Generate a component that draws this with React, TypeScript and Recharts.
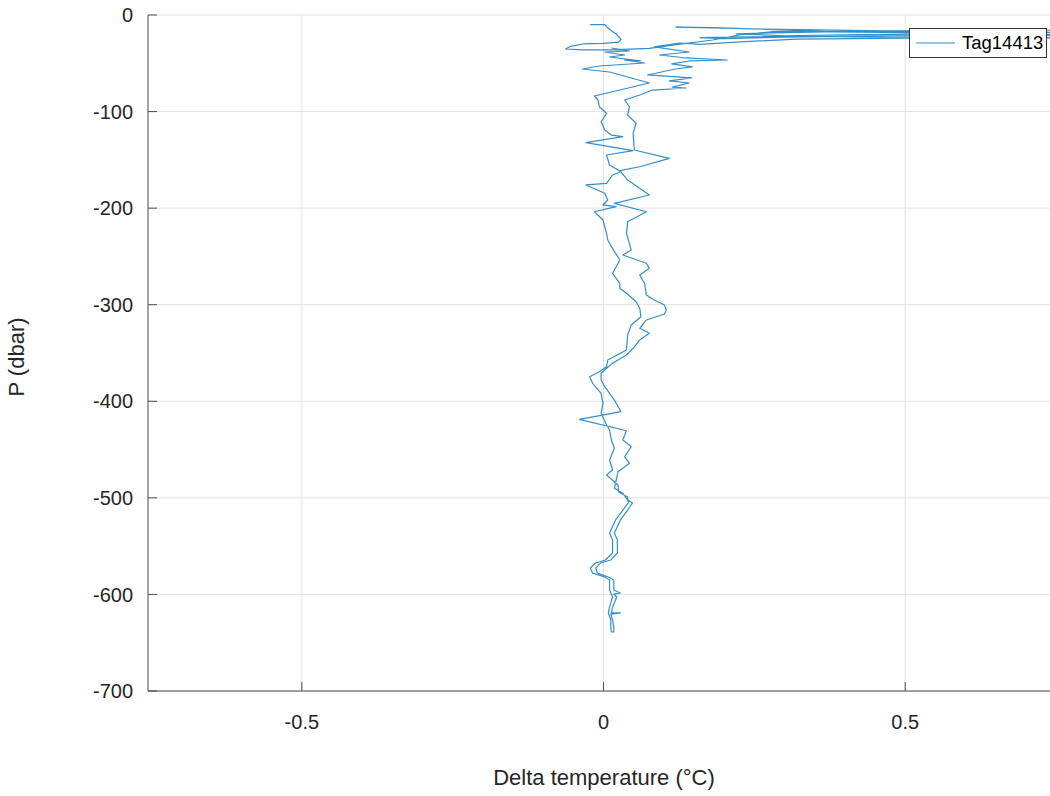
import React from 'react';
import { LineChart, Line, XAxis, YAxis, CartesianGrid, Legend, Label } from 'recharts';

const FONT = '"Liberation Sans", Arial, Helvetica, sans-serif';
const TEXT = '#262626';
const AXIS = '#4d4d4d';
const BLUE = '#0072BD';

const seriesName = 'Tag14413';
const xTicks = [-0.5, 0, 0.5];
const yTicks = [-700, -600, -500, -400, -300, -200, -100, 0];

// near-surface part (start, warm excursions)
const surfaceTemp = [-0.022, 0.002, 0.005, 0.013, 0.021, 0.029, 0.025, -0.001, -0.034, -0.056, -0.063, -0.035, 0.010, 0.076, 0.114, 0.181, 0.225, 0.280, 0.502, 0.80, 0.55, 0.40, 0.30, 0.22, 0.28, 0.45, 0.80, 0.52, 0.35, 0.22, 0.12, 0.18, 0.26, 0.38, 0.55, 0.80, 0.48, 0.30, 0.20, 0.16, 0.24, 0.33, 0.45, 0.80, 0.50, 0.32, 0.22, 0.16, 0.126];
const surfaceP = [-10.0, -10.0, -12.1, -16.3, -19.7, -25.2, -28.0, -29.3, -30.0, -32.8, -35.2, -36.2, -36.2, -34.5, -31.1, -25.9, -20.7, -17.3, -17.3, -18.0, -19.5, -20.5, -21.5, -19.5, -18.5, -16.5, -15.5, -17.0, -15.5, -14.0, -12.5, -13.0, -14.5, -17.5, -18.5, -21.0, -21.5, -23.0, -24.5, -23.5, -22.5, -22.0, -23.0, -23.5, -24.0, -25.0, -28.0, -30.5, -29.0];

// descent
const descentTemp = [0.084, 0.142, 0.093, 0.137, 0.205, 0.142, 0.113, 0.147, 0.119, 0.073, 0.146, 0.109, 0.142, 0.114, 0.137, 0.081, 0.060, 0.040, 0.035, 0.043, 0.040, 0.054, 0.049, 0.051, 0.109, 0.060, 0.027, 0.040, 0.076, 0.018, 0.071, 0.040, 0.038, 0.046, 0.032, 0.071, 0.076, 0.060, 0.068, 0.071, 0.084, 0.101, 0.104, 0.101, 0.071, 0.060, 0.076, 0.060, 0.049, 0.038, 0.015, 0.005, -0.004, -0.004, 0.002, 0.010, 0.018, 0.029, -0.040, 0.038, 0.032, 0.046, 0.035, 0.043, 0.024, 0.018, 0.032, 0.040, 0.048, 0.040, 0.028, 0.018, 0.023, 0.023, 0.012, -0.005, -0.013, -0.010, 0.008, 0.017, 0.017, 0.028, 0.017, 0.022, 0.015, 0.013, 0.028, 0.012, 0.015, 0.017, 0.017];
const descentP = [-33.1, -38.3, -41.4, -44.5, -46.6, -47.6, -50.7, -53.8, -55.9, -62.1, -65.2, -68.3, -70.4, -74.6, -75.6, -77.7, -82.8, -87.0, -88.0, -95.0, -103.6, -112.1, -122.5, -139.8, -148.4, -157.1, -161.2, -170.9, -186.4, -195.0, -203.7, -214.0, -226.1, -243.3, -248.5, -257.1, -262.3, -269.2, -277.8, -289.9, -295.1, -300.3, -305.5, -309.6, -315.8, -324.4, -329.6, -336.5, -345.1, -352.1, -360.7, -365.8, -371.0, -378.0, -384.9, -391.7, -398.7, -410.8, -418.7, -430.5, -440.1, -447.0, -457.4, -464.2, -472.9, -490.1, -495.3, -502.2, -505.3, -512.6, -522.9, -536.4, -543.6, -557.1, -564.3, -567.5, -572.7, -577.9, -582.0, -585.1, -595.4, -598.5, -599.6, -602.7, -613.1, -619.2, -619.2, -620.3, -626.5, -633.8, -638.9];

// ascent
const ascentTemp = [0.013, 0.012, 0.012, 0.008, 0.010, 0.015, 0.010, 0.010, 0.002, -0.018, -0.022, -0.013, 0.003, 0.015, 0.015, 0.010, 0.020, 0.032, 0.041, 0.040, 0.025, 0.024, 0.005, 0.015, 0.010, 0.018, 0.013, 0.010, 0.005, -0.004, -0.001, -0.004, -0.018, -0.023, -0.007, 0.005, 0.007, 0.038, 0.040, 0.046, 0.062, 0.060, 0.054, 0.038, 0.027, 0.027, 0.015, 0.027, 0.013, 0.007, 0.005, -0.001, -0.015, 0.021, -0.001, 0.007, 0.002, -0.029, 0.005, 0.015, 0.029, 0.010, 0.005, 0.049, -0.029, 0.032, 0.013, 0.002, -0.004, 0.005, -0.007, -0.009, -0.015, 0.076, 0.010, -0.035, -0.007, 0.068, 0.035, 0.061, 0.010, 0.035, 0.002, 0.043, 0.013];
const ascentP = [-638.9, -633.8, -626.5, -619.2, -613.1, -602.7, -595.4, -585.1, -582.0, -577.9, -572.7, -567.5, -564.3, -557.1, -543.6, -536.4, -522.9, -512.6, -505.3, -499.1, -493.9, -486.7, -476.3, -471.2, -460.8, -448.7, -440.1, -429.7, -424.6, -412.5, -402.1, -391.7, -381.4, -374.5, -369.4, -364.2, -357.3, -346.9, -331.4, -321.0, -312.4, -303.7, -296.9, -288.2, -283.0, -277.8, -267.5, -253.7, -239.9, -233.0, -226.1, -212.3, -203.7, -198.5, -196.7, -191.6, -184.6, -176.0, -174.3, -165.7, -162.3, -155.3, -145.0, -140.5, -132.2, -126.0, -124.3, -119.1, -110.5, -101.8, -95.0, -88.0, -83.9, -70.4, -59.0, -55.9, -52.8, -49.7, -46.6, -47.6, -43.5, -41.4, -38.3, -37.3, -34.2];

const allTemp = [...surfaceTemp, ...descentTemp, ...ascentTemp];
const allP = [...surfaceP, ...descentP, ...ascentP];
const data = allTemp.map((t, i) => ({ t, p: allP[i] }));

const XTick = (props: any) => {
  const { x, y, payload } = props;
  return (
    <g>
      <line x1={x} x2={x} y1={y - 24} y2={y - 33} stroke={AXIS} strokeWidth={1} />
      <text x={x} y={y} dy="0.71em" textAnchor="middle" fill={TEXT} fontSize={20} fontFamily={FONT}>
        {payload.value}
      </text>
    </g>
  );
};

const YTick = (props: any) => {
  const { x, y, payload } = props;
  return (
    <g>
      <line x1={x + 15} x2={x + 24} y1={y} y2={y} stroke={AXIS} strokeWidth={1} />
      <text x={x} y={y} dy="0.36em" textAnchor="end" fill={TEXT} fontSize={20} fontFamily={FONT}>
        {payload.value}
      </text>
    </g>
  );
};

const XLabel = (props: any) => {
  const vb = props.viewBox || {};
  const cx = vb.x + vb.width / 2 + 5;
  const cy = vb.y + vb.height + 64;
  return (
    <text x={cx} y={cy} textAnchor="middle" fill={TEXT} fontSize={22} fontFamily={FONT}>
      Delta temperature (°C)
    </text>
  );
};

const YLabel = (props: any) => {
  const vb = props.viewBox || {};
  const cx = vb.x + 24;
  const cy = vb.y + vb.height / 2 + 4;
  return (
    <text x={cx} y={cy} transform={`rotate(-90 ${cx} ${cy})`} textAnchor="middle" fill={TEXT} fontSize={22} fontFamily={FONT}>
      P (dbar)
    </text>
  );
};

const renderLegend = () => (
  <div
    style={{
      boxSizing: 'border-box',
      width: 138,
      height: 30,
      border: '1px solid #333',
      background: '#fff',
      display: 'flex',
      alignItems: 'center',
      fontFamily: FONT,
      fontSize: 18.5,
      color: '#000',
      lineHeight: '28px',
    }}
  >
    <svg width={52} height={28} style={{ display: 'block' }}>
      <line x1={6} x2={45} y1={14} y2={14} stroke={BLUE} strokeWidth={1.2} strokeOpacity={0.8} />
    </svg>
    <span>{seriesName}</span>
  </div>
);

export default function App() {
  return (
    <div style={{ position: 'absolute', left: 0, top: 0, width: 1050, height: 796, background: '#fff' }}>
      <LineChart width={1050} height={796} data={data} margin={{ top: 15, right: 0, bottom: 75, left: 0 }}>
        <CartesianGrid stroke="#e2e2e2" strokeWidth={1} horizontalValues={yTicks} verticalValues={xTicks} />
        <XAxis
          dataKey="t"
          type="number"
          domain={[-0.755, 0.74]}
          ticks={xTicks}
          allowDataOverflow
          height={30}
          tickSize={0}
          tickMargin={24}
          tickLine={false}
          tick={<XTick />}
          stroke={AXIS}
          interval={0}
        >
          <Label content={<XLabel />} />
        </XAxis>
        <YAxis
          type="number"
          domain={[-700, 0]}
          ticks={yTicks}
          allowDataOverflow
          width={148}
          tickSize={0}
          tickMargin={15}
          tickLine={false}
          tick={<YTick />}
          stroke={AXIS}
          interval={0}
        >
          <Label content={<YLabel />} />
        </YAxis>
        <Legend
          layout="vertical"
          align="center"
          verticalAlign="middle"
          content={renderLegend}
          wrapperStyle={{ left: 909, top: 28, width: 138, height: 30 }}
        />
        <Line
          name={seriesName}
          dataKey="p"
          stroke={BLUE}
          strokeWidth={1.2}
          strokeOpacity={0.8}
          dot={false}
          activeDot={false}
          isAnimationActive={false}
          strokeLinejoin="round"
        />
      </LineChart>
    </div>
  );
}
